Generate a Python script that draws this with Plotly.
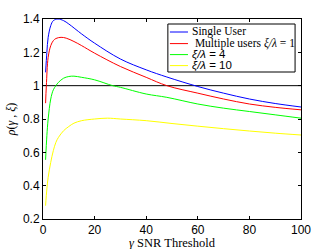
import plotly.graph_objects as go

ref_x = [0, 100]
ref_y = [1.0, 1.0]

blue_x = [1, 1.5, 2, 3, 4, 5.8, 8, 10, 15, 20, 30, 40, 48, 60, 70, 80, 90, 100]
blue_y = [1.08, 1.2, 1.29, 1.36, 1.39, 1.40, 1.39, 1.37, 1.31, 1.255, 1.16, 1.095, 1.052, 0.995, 0.955, 0.92, 0.893, 0.872]

red_x = [1, 1.3, 2, 3, 4, 5, 7, 9, 12, 15, 20, 30, 40, 48, 60, 70, 80, 90, 100]
red_y = [0.895, 1.0, 1.17, 1.24, 1.27, 1.283, 1.29, 1.285, 1.265, 1.24, 1.195, 1.115, 1.05, 1.0, 0.955, 0.92, 0.89, 0.87, 0.855]

green_x = [1, 1.5, 2, 3, 4, 5, 6, 8, 10, 12, 15, 20, 27, 30, 40, 48, 60, 70, 80, 90, 100]
green_y = [0.555, 0.70, 0.80, 0.92, 0.975, 1.0, 1.02, 1.045, 1.055, 1.057, 1.05, 1.035, 1.0, 0.99, 0.95, 0.93, 0.89, 0.865, 0.845, 0.825, 0.805]

yellow_x = [1, 1.5, 2, 3, 4, 5, 6, 8, 10, 12, 15, 20, 25, 30, 40, 50, 60, 70, 80, 90, 100]
yellow_y = [0.28, 0.38, 0.45, 0.54, 0.61, 0.66, 0.69, 0.73, 0.755, 0.775, 0.79, 0.80, 0.805, 0.80, 0.79, 0.773, 0.757, 0.742, 0.728, 0.715, 0.704]

legend_names = ["Single User", " Multiple users <i>ξ/λ</i> = 1", "<i>ξ/λ</i> = 4", "<i>ξ/λ</i> = 10"]
legend_colors = ["#0000ff", "#ff0000", "#00ff00", "#ffff00"]
legend_fonts = ["Liberation Serif, Times New Roman", "Liberation Serif, Times New Roman",
                "Liberation Sans, Arial", "Liberation Sans, Arial"]

x_title = "<i>γ</i> SNR Threshold"
y_title = "<i>ρ</i>(<i>γ</i> , <i>ξ</i>)"

x_ticks = [0, 20, 40, 60, 80, 100]
y_ticks = [0.2, 0.4, 0.6, 0.8, 1.0, 1.2, 1.4]
y_tick_text = ["0.2", "0.4", "0.6", "0.8", "1", "1.2", "1.4"]

fig = go.Figure()
fig.add_trace(go.Scatter(x=ref_x, y=ref_y, mode="lines", line=dict(color="#000000", width=1)))
for xs, ys, c in [(blue_x, blue_y, "#0000ff"), (red_x, red_y, "#ff0000"),
                  (green_x, green_y, "#00ff00"), (yellow_x, yellow_y, "#ffff00")]:
    fig.add_trace(go.Scatter(x=xs, y=ys, mode="lines",
                             line=dict(color=c, width=1, shape="spline")))

axis_common = dict(showgrid=False, zeroline=False, showline=True, linecolor="#000000",
                   linewidth=1, mirror="ticks", ticks="inside", ticklen=3,
                   tickcolor="#000000", automargin=False,
                   tickfont=dict(family="Liberation Sans, Arial", size=12, color="#000000"))

# manual compact legend (paper coords of plot area)
lx0, lx1, ly0, ly1 = 0.484, 0.977, 0.735, 0.975
shapes = [dict(type="rect", xref="paper", yref="paper", x0=lx0, x1=lx1, y0=ly0, y1=ly1,
               line=dict(color="#000000", width=1), fillcolor="#ffffff", layer="above")]
annotations = []
row_y = [0.935, 0.877, 0.822, 0.767]
for name, col, fnt, yy in zip(legend_names, legend_colors, legend_fonts, row_y):
    shapes.append(dict(type="line", xref="paper", yref="paper", x0=0.492, x1=0.562, y0=yy, y1=yy,
                       line=dict(color=col, width=1), layer="above"))
    annotations.append(dict(xref="paper", yref="paper", x=0.568, y=yy, xanchor="left", yanchor="middle",
                            text=name, showarrow=False,
                            font=dict(family=fnt, size=11.5, color="#000000")))

annotations.append(dict(xref="paper", yref="paper", x=0.5, y=-0.122, xanchor="center", yanchor="middle",
                        text=x_title, showarrow=False,
                        font=dict(family="Liberation Serif, Times New Roman", size=12.5, color="#000000")))

fig.update_layout(
    width=332, height=249,
    margin=dict(l=43, r=31, t=19, b=30),
    paper_bgcolor="#ffffff", plot_bgcolor="#ffffff",
    showlegend=False,
    xaxis=dict(range=[0, 100], tickvals=x_ticks, **axis_common),
    yaxis=dict(range=[0.2, 1.4], tickvals=y_ticks, ticktext=y_tick_text, **axis_common,
               title=dict(text=y_title, standoff=4,
                          font=dict(family="Liberation Serif, Times New Roman", size=12, color="#000000"))),
    shapes=shapes,
    annotations=annotations,
)

fig.write_html("out.html", config={"displayModeBar": False},
               post_script="document.body.style.margin='0';document.body.style.padding='0';")
